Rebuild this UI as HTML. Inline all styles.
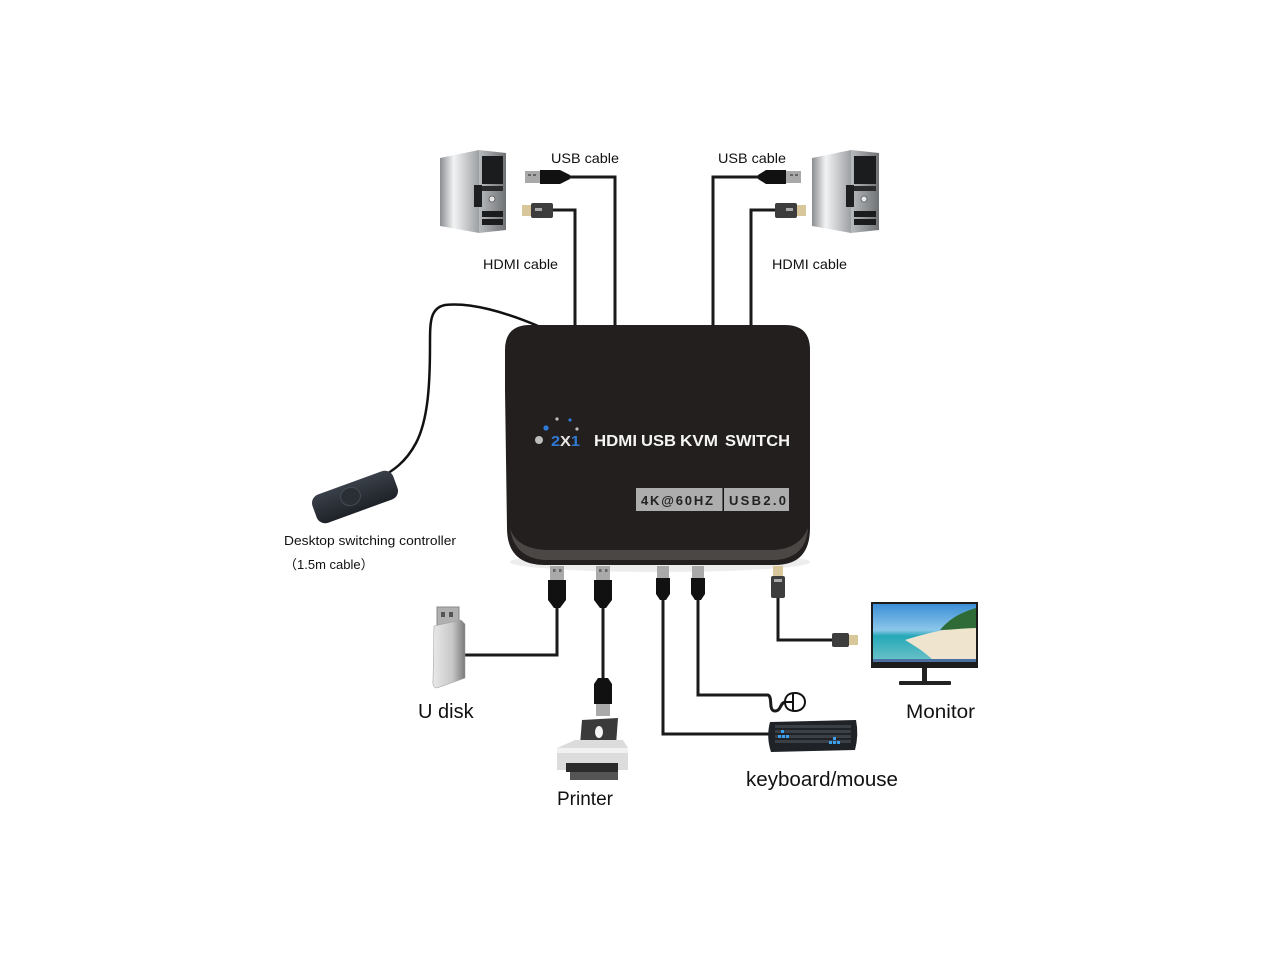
<!DOCTYPE html>
<html><head><meta charset="utf-8"><style>
html,body{margin:0;padding:0;background:#fff;}
svg{display:block;}
text{font-family:"Liberation Sans",Arial,sans-serif;}
</style></head><body>
<svg width="1280" height="960" viewBox="0 0 1280 960" xmlns="http://www.w3.org/2000/svg">
<defs>
<linearGradient id="side" x1="0" y1="0" x2="1" y2="0">
<stop offset="0" stop-color="#8a8d90"/><stop offset="0.35" stop-color="#f2f3f4"/><stop offset="1" stop-color="#9da0a3"/>
</linearGradient>
<linearGradient id="front" x1="0" y1="0" x2="1" y2="0">
<stop offset="0" stop-color="#b8bbbe"/><stop offset="1" stop-color="#6f7275"/>
</linearGradient>
<linearGradient id="udisk" x1="0" y1="0" x2="1" y2="0">
<stop offset="0" stop-color="#e9e9e9"/><stop offset="0.6" stop-color="#c8c8c8"/><stop offset="1" stop-color="#7a7a7a"/>
</linearGradient>
<linearGradient id="sky" x1="0" y1="0" x2="0" y2="1">
<stop offset="0" stop-color="#3c8fd6"/><stop offset="0.45" stop-color="#8cc7ea"/><stop offset="0.55" stop-color="#25a8b8"/><stop offset="1" stop-color="#6fc2c8"/>
</linearGradient>
<linearGradient id="ctrl" x1="0" y1="0" x2="0" y2="1">
<stop offset="0" stop-color="#3a4049"/><stop offset="1" stop-color="#1e2228"/>
</linearGradient>
</defs>

<!-- Left computer -->
<g>
<polygon points="440,158 479,150 479,233 440,226" fill="url(#side)"/>
<polygon points="479,150 506,153 506,230 479,233" fill="url(#front)"/>
<rect x="482" y="156" width="21" height="28" fill="#1b1c1e"/>
<rect x="482" y="186" width="21" height="5" fill="#2a2b2d"/>
<circle cx="492" cy="199" r="3" fill="#e8e8e8" stroke="#555" stroke-width="0.8"/>
<rect x="474" y="185" width="8" height="22" fill="#1e1f21"/>
<rect x="482" y="211" width="21" height="6" fill="#1b1c1e"/>
<rect x="482" y="219" width="21" height="6" fill="#1b1c1e"/>
</g>
<!-- Right computer -->
<g>
<polygon points="812,158 851,150 851,233 812,226" fill="url(#side)"/>
<polygon points="851,150 879,153 879,230 851,233" fill="url(#front)"/>
<rect x="854" y="156" width="22" height="28" fill="#1b1c1e"/>
<rect x="854" y="186" width="22" height="5" fill="#2a2b2d"/>
<circle cx="864" cy="199" r="3" fill="#e8e8e8" stroke="#555" stroke-width="0.8"/>
<rect x="846" y="185" width="8" height="22" fill="#1e1f21"/>
<rect x="854" y="211" width="22" height="6" fill="#1b1c1e"/>
<rect x="854" y="219" width="22" height="6" fill="#1b1c1e"/>
</g>

<!-- Top cables -->
<g stroke="#1a1a1a" stroke-width="3" fill="none">
<polyline points="565,177 615,177 615,326"/>
<polyline points="552,210 575,210 575,326"/>
<polyline points="768,177 713,177 713,326"/>
<polyline points="780,210 751,210 751,326"/>
</g>
<!-- Left USB plug -->
<rect x="525" y="171" width="15" height="12" fill="#a9a9a9"/>
<rect x="528" y="174" width="3" height="2" fill="#666"/><rect x="533" y="174" width="3" height="2" fill="#666"/>
<path d="M540,170 L560,170 L570,175 L570,179 L560,184 L540,184 Z" fill="#111"/>
<!-- Left HDMI plug -->
<rect x="522" y="205" width="9" height="11" fill="#d8c79a"/>
<rect x="531" y="203" width="22" height="15" rx="2" fill="#3d3d3d"/>
<rect x="535" y="208" width="7" height="3" fill="#aaa"/>
<!-- Right USB plug -->
<rect x="786" y="171" width="15" height="12" fill="#a9a9a9"/>
<rect x="790" y="174" width="3" height="2" fill="#666"/><rect x="795" y="174" width="3" height="2" fill="#666"/>
<path d="M786,170 L766,170 L758,175 L758,179 L766,184 L786,184 Z" fill="#111"/>
<!-- Right HDMI plug -->
<rect x="797" y="205" width="9" height="11" fill="#d8c79a"/>
<rect x="775" y="203" width="22" height="15" rx="2" fill="#3d3d3d"/>
<rect x="786" y="208" width="7" height="3" fill="#aaa"/>

<text x="551" y="163" font-size="14" fill="#111" textLength="68" lengthAdjust="spacingAndGlyphs">USB cable</text>
<text x="718" y="163" font-size="14" fill="#111" textLength="68" lengthAdjust="spacingAndGlyphs">USB cable</text>
<text x="483" y="269" font-size="14" fill="#111" textLength="75" lengthAdjust="spacingAndGlyphs">HDMI cable</text>
<text x="772" y="269" font-size="14" fill="#111" textLength="75" lengthAdjust="spacingAndGlyphs">HDMI cable</text>

<!-- Controller cable -->
<path d="M538,326 C505,312 470,302 445,305 C430,308 430,322 430,345 C430,385 428,420 416,443 C406,462 393,471 378,479" stroke="#111" stroke-width="2.5" fill="none"/>
<!-- Controller -->
<g transform="translate(355,497) rotate(-20)">
<rect x="-43" y="-15" width="86" height="30" rx="9" fill="url(#ctrl)"/>
<ellipse cx="-4" cy="-2" rx="10" ry="9" fill="#2a2f36" stroke="#454b54" stroke-width="1"/>
</g>
<text x="284" y="545" font-size="13" fill="#111" textLength="172" lengthAdjust="spacingAndGlyphs">Desktop switching controller</text>
<text x="284" y="569" font-size="13" fill="#111">（1.5m cable）</text>

<!-- Main box -->
<ellipse cx="660" cy="562" rx="150" ry="10" fill="#e6e6e6" opacity="0.7"/>
<path d="M505,390 L505,350 Q505,325 530,325 L785,325 Q810,325 810,350 L810,528 Q810,565 775,565 L545,565 Q507,565 507,528 Z" fill="#231f1e"/>
<path d="M510,528 Q514,558 545,560 L775,560 Q806,558 808,528 Q800,548 775,550 L545,550 Q516,548 510,528 Z" fill="#6b6766" opacity="0.55"/>

<!-- Logo dots -->
<circle cx="539" cy="440" r="4" fill="#bdbdbd"/>
<circle cx="546" cy="428" r="2.6" fill="#2f7ad6"/>
<circle cx="557" cy="419" r="1.6" fill="#bdbdbd"/>
<circle cx="570" cy="420" r="1.6" fill="#2f7ad6"/>
<circle cx="577" cy="429" r="1.6" fill="#bdbdbd"/>
<text x="551" y="446" font-size="15" font-weight="bold" fill="#2f7ad6" textLength="29" lengthAdjust="spacingAndGlyphs">2<tspan fill="#e8e8e8">X</tspan>1</text>
<text x="594" y="446" font-size="16" font-weight="bold" fill="#f4f4f4" textLength="43" lengthAdjust="spacingAndGlyphs">HDMI</text>
<text x="641" y="446" font-size="16" font-weight="bold" fill="#f4f4f4" textLength="35" lengthAdjust="spacingAndGlyphs">USB</text>
<text x="680" y="446" font-size="16" font-weight="bold" fill="#f4f4f4" textLength="38" lengthAdjust="spacingAndGlyphs">KVM</text>
<text x="725" y="446" font-size="16" font-weight="bold" fill="#f4f4f4" textLength="65" lengthAdjust="spacingAndGlyphs">SWITCH</text>
<rect x="636" y="488" width="87" height="23" fill="#adadad"/>
<rect x="724" y="488" width="65" height="23" fill="#adadad"/>
<rect x="722.5" y="488" width="1.5" height="23" fill="#111"/>
<text x="641" y="505" font-size="13" font-weight="bold" fill="#222" textLength="72" lengthAdjust="spacing">4K@60HZ</text>
<text x="729" y="505" font-size="13" font-weight="bold" fill="#222" textLength="57" lengthAdjust="spacing">USB2.0</text>

<!-- Bottom cables -->
<g stroke="#1a1a1a" stroke-width="3" fill="none">
<polyline points="557,606 557,655 465,655"/>
<polyline points="603,606 603,678"/>
<polyline points="663,598 663,734 770,734"/>
<path d="M698,598 L698,695 L768,695 C773,697 768,711 775,711 C781,711 780,703 785,702"/>
<polyline points="778,596 778,640 834,640"/>
</g>
<!-- Bottom USB plugs -->
<g>
<rect x="550" y="566" width="14" height="14" fill="#a9a9a9"/>
<rect x="553" y="569" width="2.5" height="3" fill="#666"/><rect x="559" y="569" width="2.5" height="3" fill="#666"/>
<path d="M548,580 L566,580 L566,600 L560,608 L554,608 L548,600 Z" fill="#111"/>
<rect x="596" y="566" width="14" height="14" fill="#a9a9a9"/>
<rect x="599" y="569" width="2.5" height="3" fill="#666"/><rect x="605" y="569" width="2.5" height="3" fill="#666"/>
<path d="M594,580 L612,580 L612,600 L606,608 L600,608 L594,600 Z" fill="#111"/>
<rect x="657" y="566" width="12" height="12" fill="#a9a9a9"/>
<path d="M656,578 L670,578 L670,594 L666,600 L660,600 L656,594 Z" fill="#111"/>
<rect x="692" y="566" width="12" height="12" fill="#a9a9a9"/>
<path d="M691,578 L705,578 L705,594 L701,600 L695,600 L691,594 Z" fill="#111"/>
<!-- bottom HDMI -->
<rect x="773" y="566" width="10" height="11" fill="#d8c79a"/>
<rect x="771" y="576" width="14" height="22" rx="2" fill="#3d3d3d"/>
<rect x="774" y="579" width="8" height="3" fill="#aaa"/>
<!-- monitor HDMI plug -->
<rect x="832" y="633" width="17" height="14" rx="2" fill="#3d3d3d"/>
<rect x="849" y="635" width="9" height="10" fill="#d8c79a"/>
<!-- printer plug -->
<path d="M598,678 L608,678 L612,684 L612,704 L594,704 L594,684 Z" fill="#111"/>
<rect x="596" y="704" width="14" height="12" fill="#a9a9a9"/>
</g>

<!-- U disk -->
<g>
<rect x="437" y="607" width="22" height="20" fill="#b0b0b0" stroke="#888" stroke-width="1"/>
<rect x="441" y="612" width="4" height="5" fill="#555"/><rect x="449" y="612" width="4" height="5" fill="#555"/>
<path d="M434,626 L461,620 L465,624 L465,678 L437,688 Q432,688 433,680 Z" fill="url(#udisk)" stroke="#999" stroke-width="0.5"/>
</g>
<text x="418" y="718" font-size="20" fill="#111">U disk</text>

<!-- Printer -->
<g>
<polygon points="582,720 618,718 616,745 580,745" fill="#3a3a3a"/>
<ellipse cx="599" cy="732" rx="4" ry="6" fill="#f4f4f4"/>
<path d="M557,748 L575,740 L623,740 L628,748 L628,770 L557,770 Z" fill="#dcdcdc"/>
<rect x="557" y="748" width="71" height="5" fill="#f1f1f1"/>
<rect x="566" y="763" width="52" height="9" fill="#2b2b2b"/>
<rect x="570" y="772" width="48" height="8" fill="#555"/>
</g>
<text x="557" y="805" font-size="19" fill="#111">Printer</text>

<!-- Mouse -->
<g fill="none" stroke="#111" stroke-width="2">
<path d="M785,702 C785,695 790,693 795,693 C801,693 805,697 805,702 C805,707 801,711 795,711 C790,711 785,709 785,702 Z"/>
<line x1="786" y1="702" x2="793" y2="702"/>
<line x1="793" y1="694" x2="793" y2="710"/>
</g>

<!-- Keyboard -->
<g>
<path d="M770,722 L856,720 Q859,735 855,750 L771,752 Q766,737 770,722 Z" fill="#1f2226"/>
<g fill="#3a3f46">
<rect x="775" y="725" width="76" height="3"/>
<rect x="775" y="730" width="76" height="3"/>
<rect x="775" y="735" width="76" height="3"/>
<rect x="775" y="740" width="76" height="3"/>
</g>
<g fill="#3aa0f0">
<rect x="781" y="730" width="3" height="3"/><rect x="778" y="735" width="3" height="3"/><rect x="782" y="735" width="3" height="3"/><rect x="786" y="735" width="3" height="3"/>
<rect x="833" y="737" width="3" height="3"/><rect x="829" y="741" width="3" height="3"/><rect x="833" y="741" width="3" height="3"/><rect x="837" y="741" width="3" height="3"/>
</g>
</g>
<text x="746" y="786" font-size="20" fill="#111" textLength="152" lengthAdjust="spacingAndGlyphs">keyboard/mouse</text>

<!-- Monitor -->
<g>
<rect x="871" y="602" width="107" height="66" fill="#1c1c1c"/>
<rect x="873" y="604" width="103" height="58" fill="url(#sky)"/>
<path d="M905,640 C930,632 950,628 976,626 L976,662 L935,662 C925,652 915,646 905,640 Z" fill="#efe5cf"/>
<path d="M940,630 C950,618 962,612 976,608 L976,628 C965,628 950,630 940,630 Z" fill="#2f6b36"/>
<rect x="873" y="659" width="103" height="3" fill="#4a6fa0"/>
<rect x="922" y="668" width="5" height="14" fill="#222"/>
<rect x="899" y="681" width="52" height="4" rx="1" fill="#222"/>
</g>
<text x="906" y="718" font-size="19" fill="#111" textLength="69" lengthAdjust="spacingAndGlyphs">Monitor</text>
</svg>
</body></html>
